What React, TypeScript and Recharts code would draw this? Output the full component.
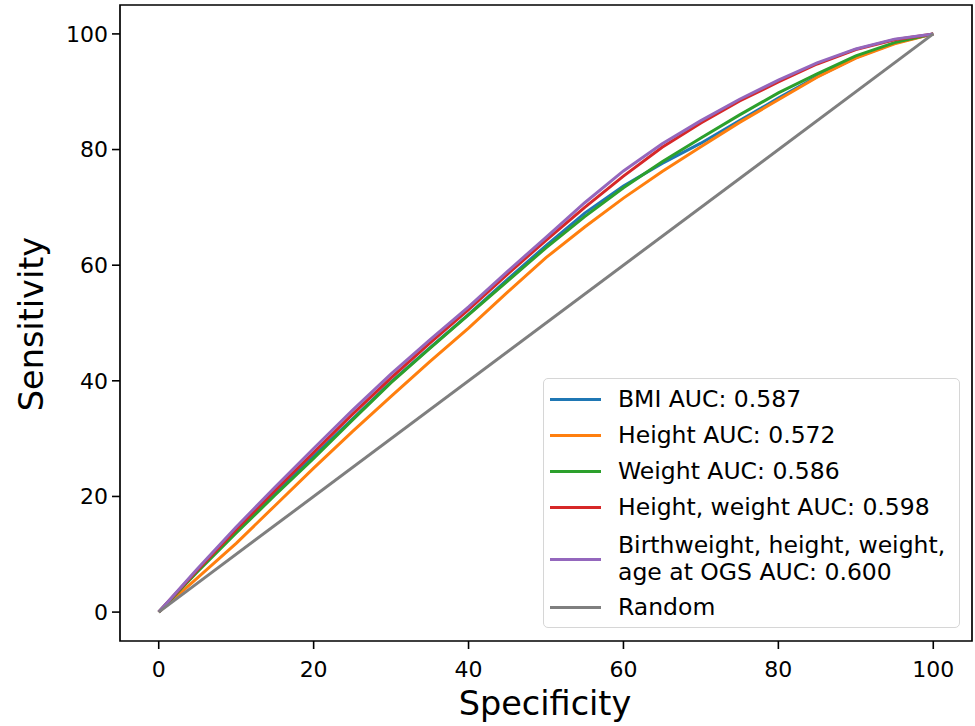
import { LineChart, Line, XAxis, YAxis, ReferenceArea, Legend } from 'recharts'

// false positive rate axis (labelled "Specificity" in the figure)
const specificity = [0, 5, 10, 15, 20, 25, 30, 35, 40, 45, 50, 55, 60, 65, 70, 75, 80, 85, 90, 95, 100]

const bmi = [0, 7.1, 13.9, 20.5, 27.0, 33.4, 39.8, 45.7, 51.5, 57.5, 63.4, 69.0, 73.7, 77.6, 81.1, 85.0, 88.9, 92.6, 95.9, 98.4, 100]
const height = [0, 5.9, 11.9, 18.4, 24.9, 31.2, 37.3, 43.3, 49.1, 55.3, 61.3, 66.6, 71.6, 76.2, 80.5, 84.7, 88.6, 92.5, 95.8, 98.3, 100]
const weight = [0, 7.0, 13.7, 20.2, 26.6, 33.2, 39.7, 45.6, 51.4, 57.2, 63.0, 68.4, 73.4, 77.9, 82.0, 86.0, 89.8, 93.1, 96.2, 98.5, 100]
const heightWeight = [0, 7.3, 14.3, 21.0, 27.6, 34.2, 40.5, 46.5, 52.3, 58.4, 64.3, 70.0, 75.4, 80.4, 84.6, 88.4, 91.7, 94.8, 97.3, 99.0, 100]
const allFeatures = [0, 7.5, 14.7, 21.6, 28.3, 34.9, 41.2, 47.1, 52.8, 58.9, 64.8, 70.8, 76.3, 81.0, 85.0, 88.7, 92.0, 95.0, 97.4, 99.1, 100]

const randomX = [0, 100]
const randomY = [0, 100]

const ticks = [0, 20, 40, 60, 80, 100]

const series = [
  { name: 'BMI', lines: ['BMI AUC: 0.587'], color: '#1f77b4', values: bmi },
  { name: 'Height', lines: ['Height AUC: 0.572'], color: '#ff7f0e', values: height },
  { name: 'Weight', lines: ['Weight AUC: 0.586'], color: '#2ca02c', values: weight },
  { name: 'HeightWeight', lines: ['Height, weight AUC: 0.598'], color: '#d62728', values: heightWeight },
  {
    name: 'All',
    lines: ['Birthweight, height, weight,', 'age at OGS AUC: 0.600'],
    color: '#9467bd',
    values: allFeatures
  }
]

const toPoints = (xs: number[], ys: number[]) => xs.map((x, i) => ({ x, y: ys[i] }))

const font = 'DejaVu Sans, sans-serif'

function LegendBox() {
  const rows = [...series.map(s => ({ lines: s.lines, color: s.color })), { lines: ['Random'], color: '#7f7f7f' }]
  const centers = [20, 56, 92, 128, 180, 228]
  return (
    <div
      style={{
        position: 'relative',
        width: 415,
        height: 248,
        border: '1.5px solid #d6d6d6',
        borderRadius: 5,
        background: 'rgba(255,255,255,0.85)',
        fontFamily: font,
        fontSize: 23.5,
        color: '#000'
      }}
    >
      {rows.map((r, i) => (
        <div key={i}>
          <div
            style={{
              position: 'absolute',
              left: 6,
              top: centers[i] - 1.5,
              width: 51,
              height: 3,
              background: r.color
            }}
          />
          <div
            style={{
              position: 'absolute',
              left: 74,
              top: centers[i] - (r.lines.length * 27) / 2,
              lineHeight: '27px',
              whiteSpace: 'nowrap'
            }}
          >
            {r.lines.map((l, j) => (
              <div key={j}>{l}</div>
            ))}
          </div>
        </div>
      ))}
    </div>
  )
}

export default function App() {
  return (
    <div style={{ position: 'absolute', left: 0, top: 0, background: '#fff' }}>
      <LineChart width={975} height={726} margin={{ top: 5, right: 3, left: 60, bottom: 0 }}>
        <XAxis
          type="number"
          dataKey="x"
          domain={[-5, 105]}
          ticks={ticks}
          allowDataOverflow
          axisLine={false}
          tickSize={8}
          tickMargin={12}
          height={85}
          tickLine={{ stroke: '#000', strokeWidth: 1.6 }}
          tick={{ fill: '#000', fontSize: 22, fontFamily: font }}
          label={() => (
            <text x={545} y={715} textAnchor="middle" fontSize={33.5} fontFamily={font} fill="#000">
              Specificity
            </text>
          )}
        />
        <YAxis
          type="number"
          dataKey="y"
          domain={[-5, 105]}
          ticks={ticks}
          allowDataOverflow
          axisLine={false}
          width={60}
          tickSize={8}
          tickMargin={4}
          tickLine={{ stroke: '#000', strokeWidth: 1.6 }}
          tick={{ fill: '#000', fontSize: 22, fontFamily: font }}
          label={() => (
            <text
              x={43}
              y={324}
              transform="rotate(-90, 43, 324)"
              textAnchor="middle"
              fontSize={33.5}
              fontFamily={font}
              fill="#000"
            >
              Sensitivity
            </text>
          )}
        />
        {series.map(s => (
          <Line
            key={s.name}
            data={toPoints(specificity, s.values)}
            dataKey="y"
            type="linear"
            stroke={s.color}
            strokeWidth={3}
            dot={false}
            isAnimationActive={false}
          />
        ))}
        <Line
          data={toPoints(randomX, randomY)}
          dataKey="y"
          type="linear"
          stroke="#7f7f7f"
          strokeWidth={3}
          dot={false}
          isAnimationActive={false}
        />
        <ReferenceArea x1={-5} x2={105} y1={-5} y2={105} fill="none" fillOpacity={0} stroke="#000" strokeWidth={1.7} />
        <Legend
          layout="vertical"
          align="center"
          verticalAlign="middle"
          wrapperStyle={{ position: 'absolute', left: 543, top: 378, width: 'auto' }}
          content={() => <LegendBox />}
        />
      </LineChart>
    </div>
  )
}
